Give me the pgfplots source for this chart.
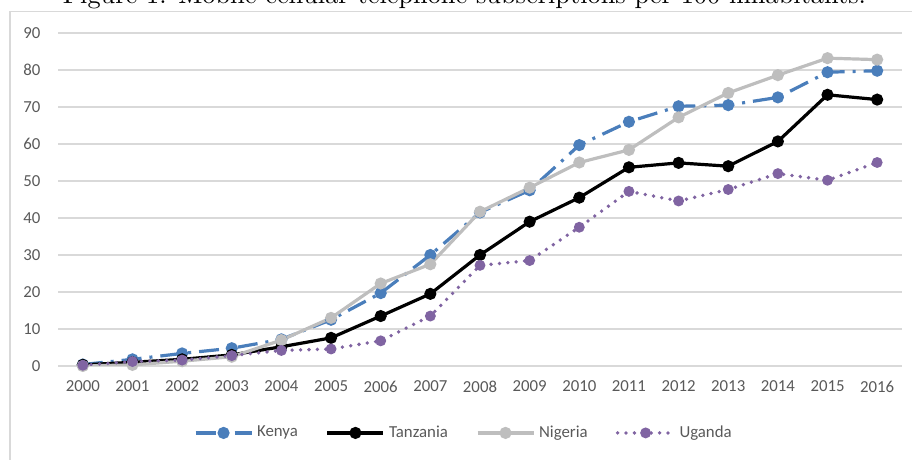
\documentclass[border=0pt]{standalone}
\usepackage{fontspec}
\usepackage{graphicx}
\usepackage{pgfplots}
\pgfplotsset{compat=1.18}
\newfontfamily\carlito{Carlito}

\definecolor{kenya}{HTML}{4A7EBB}
\definecolor{nigeria}{HTML}{BEBEBE}
\definecolor{uganda}{HTML}{8064A2}
\definecolor{tickgray}{HTML}{595959}
\definecolor{gridgray}{HTML}{D9D9D9}

\begin{document}
\begin{tikzpicture}
\useasboundingbox (0pt,0pt) rectangle (456pt,230pt);
\clip (0pt,0pt) rectangle (456pt,230pt);
% caption, cut off at the top as in the scan
\node[anchor=base, inner sep=0pt] at (232.25pt,228pt)
  {\resizebox{401.5pt}{!}{Figure 1: Mobile cellular telephone subscriptions per 100 inhabitants.}};
\draw[gridgray, line width=0.6pt] (5pt,-20pt) rectangle (480pt,224.25pt);

\begin{axis}[
    at={(29pt,47pt)}, anchor=south west,
    scale only axis,
    width=422pt, height=166.5pt,
    xmin=1999.5, xmax=2016.5,
    ymin=0, ymax=90,
    xtick={2000,2001,...,2016},
    ytick={0,10,...,90},
    axis line style={draw=none},
    tick style={draw=none},
    major tick length=0pt,
    ymajorgrids,
    grid style={gridgray, line width=0.6pt},
    ticklabel style={font=\carlito\fontsize{8.4}{10}\selectfont, text=tickgray},
    /pgf/number format/assume math mode=true,
    xticklabel style={/pgf/number format/1000 sep={}, yshift=-4pt},
    yticklabel style={xshift=-5.3pt},
    legend columns=4,
    legend style={at={(0.482,-0.201)}, anchor=center, draw=none, fill=none,
        font=\carlito\fontsize{8.4}{10}\selectfont, text=tickgray,
        /tikz/every even column/.append style={column sep=12pt}},
    legend image code/.code={\draw[mark repeat=2, mark phase=2, #1]
        plot coordinates {(0pt,0pt) (14pt,0pt) (28pt,0pt)};},
    every axis plot/.append style={line width=1.6pt},
]
\addplot[kenya, dash pattern=on 10pt off 4pt on 1.5pt off 4pt,
    mark=*, mark size=2.2pt, mark options={solid, fill=kenya}] coordinates {
    (2000,0.4) (2001,1.8) (2002,3.4) (2003,4.8) (2004,7.2) (2005,12.5)
    (2006,19.7) (2007,30.0) (2008,41.5) (2009,47.5) (2010,59.7) (2011,66.0)
    (2012,70.2) (2013,70.5) (2014,72.6) (2015,79.4) (2016,79.8)
};
\addlegendentry{Kenya}
\addplot[black, solid, mark=*, mark size=2.2pt, mark options={solid, fill=black}] coordinates {
    (2000,0.3) (2001,1.0) (2002,1.8) (2003,3.0) (2004,5.2) (2005,7.6)
    (2006,13.5) (2007,19.5) (2008,30.0) (2009,39.0) (2010,45.5) (2011,53.7)
    (2012,54.9) (2013,54.0) (2014,60.7) (2015,73.3) (2016,72.0)
};
\addlegendentry{Tanzania}
\addplot[nigeria, solid, mark=*, mark size=2.2pt, mark options={solid, fill=nigeria}] coordinates {
    (2000,0.0) (2001,0.3) (2002,1.3) (2003,2.5) (2004,7.0) (2005,13.0)
    (2006,22.3) (2007,27.5) (2008,41.7) (2009,48.2) (2010,55.0) (2011,58.4)
    (2012,67.2) (2013,73.8) (2014,78.6) (2015,83.2) (2016,82.8)
};
\addlegendentry{Nigeria}
\addplot[uganda, line width=1.9pt, line cap=round, dash pattern=on 0pt off 4.2pt,
    mark=*, mark size=2.2pt, mark options={solid, line width=1pt, fill=uganda}] coordinates {
    (2000,0.2) (2001,1.2) (2002,1.6) (2003,2.8) (2004,4.2) (2005,4.6)
    (2006,6.8) (2007,13.5) (2008,27.2) (2009,28.5) (2010,37.5) (2011,47.2)
    (2012,44.6) (2013,47.7) (2014,52.0) (2015,50.2) (2016,55.0)
};
\addlegendentry{Uganda}
\end{axis}
\end{tikzpicture}
\end{document}
